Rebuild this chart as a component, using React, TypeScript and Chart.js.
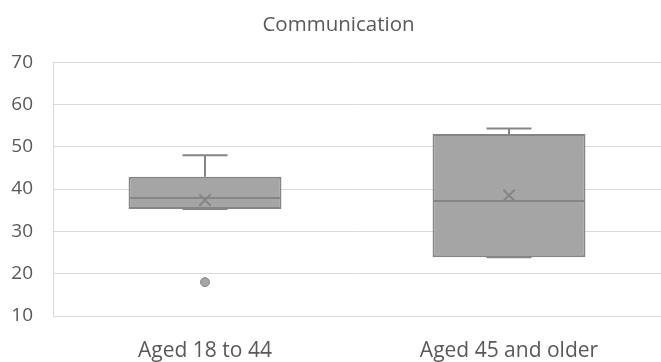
import React, { useEffect, useRef } from "react";
import { Chart, registerables } from "chart.js";

Chart.register(...registerables);

// Box-and-whisker summary per age group
const categories = ["Aged 18 to 44", "Aged 45 and older"];
const whiskerMin = [35.3, 23.9];
const q1 = [35.3, 23.9];
const median = [37.9, 37.2];
const q3 = [42.9, 53.0];
const whiskerMax = [48.0, 54.3];
const mean = [37.4, 38.5];
const outliers: number[][] = [[18], []];
const yTicks = [10, 20, 30, 40, 50, 60, 70];

const BOX_FILL = "#a5a5a5";
const BOX_LINE = "#858585";
const TEXT = "#595959";
const GRID = "#d9d9d9";
const FONT = "'Open Sans', sans-serif";

// Draws whiskers, caps and the median line for each box using the chart's scales
const boxParts = {
  id: "boxParts",
  afterDatasetDraw(chart: any, args: any) {
    if (args.index !== 0) return;
    const { ctx, scales } = chart;
    const y = scales.y;
    const meta = chart.getDatasetMeta(0);
    ctx.save();
    ctx.strokeStyle = BOX_LINE;
    ctx.lineWidth = 2;
    meta.data.forEach((bar: any, i: number) => {
      const cx = bar.x;
      const half = bar.width / 2;
      const capHalf = bar.width * 0.147;
      const yMin = y.getPixelForValue(whiskerMin[i]);
      const yQ1 = y.getPixelForValue(q1[i]);
      const yQ3 = y.getPixelForValue(q3[i]);
      const yMax = y.getPixelForValue(whiskerMax[i]);
      const yMed = y.getPixelForValue(median[i]);
      ctx.beginPath();
      // upper whisker + cap
      ctx.moveTo(cx, yQ3);
      ctx.lineTo(cx, yMax);
      ctx.moveTo(cx - capHalf, yMax);
      ctx.lineTo(cx + capHalf, yMax);
      // lower whisker + cap
      ctx.moveTo(cx, yQ1);
      ctx.lineTo(cx, yMin);
      ctx.moveTo(cx - capHalf, yMin);
      ctx.lineTo(cx + capHalf, yMin);
      // median
      ctx.moveTo(cx - half + 1, yMed);
      ctx.lineTo(cx + half - 1, yMed);
      ctx.stroke();
    });
    ctx.restore();
  },
};

// Nudges the title block so its text sits a little right of the canvas centre
const titleShift = {
  id: "titleShift",
  afterLayout(chart: any) {
    const t = chart.titleBlock;
    if (t) t.left += 16;
  },
};

export default function App() {
  const ref = useRef<HTMLCanvasElement>(null);

  useEffect(() => {
    document.body.style.margin = "0";
    const canvas = ref.current;
    if (!canvas) return;

    const outlierPoints: { x: string; y: number }[] = [];
    outliers.forEach((vals, i) =>
      vals.forEach((v) => outlierPoints.push({ x: categories[i], y: v }))
    );

    const chart = new Chart(canvas, {
      type: "bar",
      data: {
        labels: categories,
        datasets: [
          {
            type: "bar",
            label: "Box",
            data: categories.map((_, i) => [q1[i], q3[i]]) as any,
            backgroundColor: BOX_FILL,
            borderColor: BOX_LINE,
            borderWidth: 2,
            borderSkipped: false,
            categoryPercentage: 1,
            barPercentage: 0.503,
            order: 3,
          } as any,
          {
            type: "scatter",
            label: "Mean",
            data: categories.map((c, i) => ({ x: c, y: mean[i] })),
            pointStyle: "crossRot",
            radius: 8,
            borderColor: BOX_LINE,
            borderWidth: 2,
            order: 1,
          } as any,
          {
            type: "scatter",
            label: "Outliers",
            data: outlierPoints,
            pointStyle: "circle",
            radius: 4.5,
            backgroundColor: BOX_FILL,
            borderColor: BOX_LINE,
            borderWidth: 1,
            order: 2,
          } as any,
        ],
      },
      options: {
        responsive: false,
        animation: false,
        layout: { padding: 0, autoPadding: false },
        plugins: {
          legend: { display: false },
          tooltip: { enabled: false },
          title: {
            display: true,
            text: "Communication",
            color: TEXT,
            font: { family: FONT, size: 20.5, weight: "normal" },
            padding: { top: 13, bottom: 24.5 },
          },
        },
        scales: {
          x: {
            type: "category",
            offset: true,
            grid: { display: false, drawTicks: false },
            border: { display: false },
            ticks: {
              color: TEXT,
              font: { family: FONT, size: 21 },
              padding: 22,
              autoSkip: false,
              maxRotation: 0,
            },
            afterFit(scale: any) {
              scale.height = 46;
              scale.paddingLeft = 0;
              scale.paddingRight = 0;
            },
          },
          y: {
            min: 10,
            max: 70,
            afterBuildTicks(scale: any) {
              scale.ticks = yTicks.map((v) => ({ value: v }));
            },
            grid: { color: GRID, lineWidth: 1, drawTicks: false },
            border: { display: true, color: GRID, width: 1 },
            ticks: {
              color: TEXT,
              font: { family: FONT, size: 19 },
              padding: 20,
            },
            afterFit(scale: any) {
              scale.width = 53;
              scale.paddingTop = 0;
              scale.paddingBottom = 0;
            },
          },
        },
      },
      plugins: [boxParts, titleShift],
    });

    return () => chart.destroy();
  }, []);

  return <canvas ref={ref} width={661} height={362} />;
}
